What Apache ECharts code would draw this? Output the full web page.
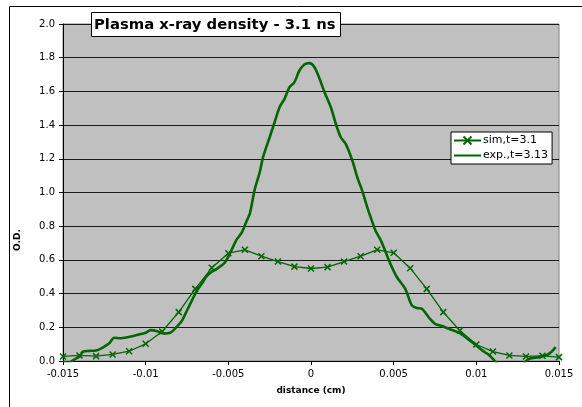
<!DOCTYPE html>
<html>
<head>
<meta charset="utf-8">
<script src="https://cdn.jsdelivr.net/npm/echarts@6/dist/echarts.min.js"></script>
<style>
  html, body { margin: 0; padding: 0; background: #fff; }
  #chart { width: 582px; height: 407px; }
</style>
</head>
<body>
<div id="chart"></div>
<script>
// Simulated optical density, sampled every 0.001 cm
var simX = [-0.015, -0.014, -0.013, -0.012, -0.011, -0.010, -0.009, -0.008, -0.007, -0.006,
            -0.005, -0.004, -0.003, -0.002, -0.001, 0, 0.001, 0.002, 0.003, 0.004,
            0.005, 0.006, 0.007, 0.008, 0.009, 0.010, 0.011, 0.012, 0.013, 0.014, 0.015];
var simY = [0.027, 0.033, 0.029, 0.039, 0.058, 0.102, 0.175, 0.29, 0.428, 0.553,
            0.64, 0.66, 0.622, 0.59, 0.56, 0.549, 0.557, 0.59, 0.622, 0.66,
            0.642, 0.551, 0.428, 0.29, 0.181, 0.098, 0.056, 0.033, 0.027, 0.031, 0.023];

// Measured optical density trace
var expX = [-0.0150, -0.0147, -0.0143, -0.0140, -0.0138, -0.0134, -0.0130, -0.0126, -0.0122, -0.0119,
            -0.0115, -0.0111, -0.0107, -0.0103, -0.0100, -0.0097, -0.0093, -0.0089, -0.0085, -0.0081,
            -0.0078, -0.0075, -0.0072, -0.0069, -0.0066, -0.0063, -0.0060, -0.0057, -0.0052, -0.0048,
            -0.0045, -0.0042, -0.0039, -0.0037, -0.0034, -0.0031, -0.0029, -0.0025, -0.0022, -0.0019,
            -0.0016, -0.0013, -0.0010, -0.0007, -0.0004, -0.0001, 0.0002, 0.0005, 0.0008, 0.0012,
            0.0015, 0.0018, 0.0021, 0.0025, 0.0028, 0.0031, 0.0034, 0.0039, 0.0042, 0.0044,
            0.0048, 0.0052, 0.0057, 0.0061, 0.0064, 0.0067, 0.0072, 0.0075, 0.0080, 0.0085,
            0.0090, 0.0095, 0.0100, 0.0104, 0.0108, 0.0113, 0.0118, 0.0123, 0.0128, 0.0132,
            0.0138, 0.0143, 0.0146, 0.0148];
var expY = [-0.005, -0.01, 0.01, 0.027, 0.055, 0.06, 0.062, 0.08, 0.105, 0.138,
            0.135, 0.141, 0.15, 0.16, 0.168, 0.183, 0.177, 0.163, 0.168, 0.205,
            0.24, 0.30, 0.36, 0.418, 0.46, 0.505, 0.53, 0.547, 0.586, 0.66,
            0.72, 0.76, 0.83, 0.874, 1.02, 1.12, 1.21, 1.328, 1.417, 1.506,
            1.556, 1.625, 1.655, 1.724, 1.76, 1.768, 1.745, 1.68, 1.60, 1.506,
            1.408, 1.328, 1.289, 1.19, 1.09, 1.01, 0.913, 0.774, 0.72, 0.675,
            0.577, 0.497, 0.428, 0.33, 0.315, 0.31, 0.25, 0.221, 0.205, 0.185,
            0.165, 0.13, 0.092, 0.06, 0.033, -0.017, -0.05, -0.05, -0.02, 0.013,
            0.023, 0.037, 0.06, 0.082];

var seriesNames = ['sim,t=3.1', 'exp.,t=3.13'];
var titleText = 'Plasma x-ray density - 3.1 ns';
var xName = 'distance (cm)';
var yName = 'O.D.';

function pairs(xs, ys) {
  return xs.map(function (x, i) { return [x, ys[i]]; });
}

var FONT = 'DejaVu Sans';
var GREEN = '#006600';
var CROSS = 'path://M0,0L10,10M10,0L0,10';
// plain line sample for the measured trace's legend entry
var BAR_ICON = 'path://M0,0L40,0L40,3L0,3Z';

var chart = echarts.init(document.getElementById('chart'), null, { renderer: 'canvas' });
chart.setOption({
  animation: false,
  backgroundColor: '#fff',
  textStyle: { fontFamily: FONT },
  grid: {
    left: 63, right: 23, top: 24, bottom: 46,
    show: true, backgroundColor: '#C0C0C0', borderColor: '#808080', borderWidth: 1
  },
  xAxis: {
    type: 'value', min: -0.015, max: 0.015, interval: 0.005,
    axisLine: { show: true, onZero: false, lineStyle: { color: '#000', width: 1 } },
    axisTick: { show: true, length: 4, inside: false, lineStyle: { color: '#000' } },
    splitLine: { show: false },
    axisLabel: {
      color: '#000', fontSize: 10, fontFamily: FONT, margin: 8,
      formatter: function (v) { return String(+v.toFixed(4)); }
    }
  },
  yAxis: {
    type: 'value', min: 0, max: 2, interval: 0.2,
    axisLine: { show: true, onZero: false, lineStyle: { color: '#000', width: 1 } },
    axisTick: { show: true, length: 4, lineStyle: { color: '#000' } },
    splitLine: { show: true, lineStyle: { color: '#1a1a1a', width: 1 } },
    axisLabel: {
      color: '#000', fontSize: 10, fontFamily: FONT, margin: 8,
      formatter: function (v) { return v.toFixed(1); }
    }
  },
  legend: {
    orient: 'vertical', left: 451, top: 132,
    backgroundColor: '#fff', borderColor: '#000', borderWidth: 1,
    padding: [3, 4, 3, 2], itemWidth: 27, itemHeight: 10, itemGap: 4,
    textStyle: { fontSize: 11, color: '#000', fontFamily: FONT, padding: [0, 0, 0, -3] },
    data: [
      { name: seriesNames[0] },
      { name: seriesNames[1], icon: BAR_ICON }
    ]
  },
  series: [
    {
      name: seriesNames[0], type: 'line', data: pairs(simX, simY),
      symbol: CROSS, symbolSize: 6, showSymbol: true,
      lineStyle: { color: GREEN, width: 1.3 },
      itemStyle: { color: GREEN, borderColor: GREEN, borderWidth: 1.5 },
      z: 3
    },
    {
      name: seriesNames[1], type: 'line', data: pairs(expX, expY),
      symbol: 'none', smooth: 0.3,
      lineStyle: { color: GREEN, width: 2.6 },
      itemStyle: { color: GREEN },
      z: 2
    }
  ],
  graphic: [
    { type: 'rect', shape: { x: 9.5, y: 6.5, width: 700, height: 600 },
      style: { fill: 'none', stroke: '#000', lineWidth: 1 }, z: 100, silent: true },
    { type: 'rect', shape: { x: 91.5, y: 12.5, width: 249, height: 24 },
      style: { fill: '#fff', stroke: '#000', lineWidth: 1 }, z: 100 },
    { type: 'text', x: 94, y: 25, z: 101,
      style: { text: titleText, font: 'bold 14.8px "DejaVu Sans"', fill: '#000',
               textVerticalAlign: 'middle', textAlign: 'left' } },
    { type: 'text', x: 311, y: 391, z: 101,
      style: { text: xName, font: 'bold 9px "DejaVu Sans"', fill: '#000',
               textVerticalAlign: 'middle', textAlign: 'center' } },
    { type: 'text', x: 18, y: 240, rotation: Math.PI / 2, z: 101,
      style: { text: yName, font: 'bold 9px "DejaVu Sans"', fill: '#000',
               textVerticalAlign: 'middle', textAlign: 'center' } }
  ]
});
</script>
</body>
</html>
